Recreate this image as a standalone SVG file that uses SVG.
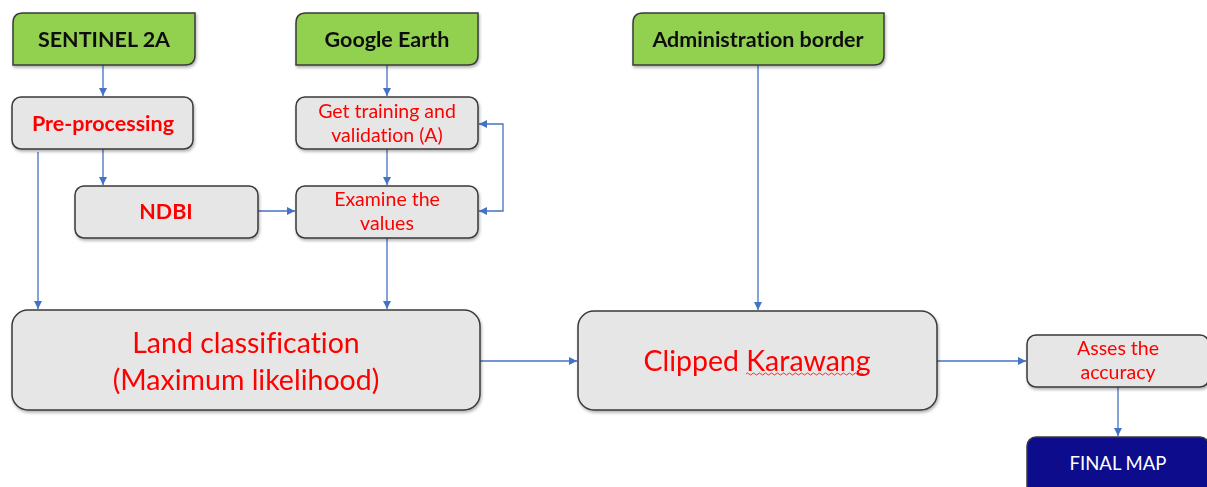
<svg xmlns="http://www.w3.org/2000/svg" width="1207" height="487" viewBox="0 0 1207 487">
<style>
.src{fill:#92d050;stroke:#3a3a3a;stroke-width:1.5}
.box{fill:#e6e6e6;stroke:#3a3a3a;stroke-width:1.5}
.fin{fill:#0c0c8c;stroke:#3a3a3a;stroke-width:1.5}
.t{font-family:Lato,"Liberation Sans",sans-serif;text-anchor:middle;font-variant-ligatures:none;font-feature-settings:"liga" 0,"dlig" 0}
.tb{font-weight:bold;fill:#111;font-size:21.5px}
.tr{fill:#ff0000;font-size:19.5px}
.trb{fill:#ff0000;font-weight:bold;font-size:21.5px}
.tl{fill:#ff0000;font-size:28.5px}
.tw{fill:#ffffff;font-size:18.5px}
.c{fill:none;stroke:#4472c4;stroke-width:1.3}
</style>
<defs>
<marker id="ar" viewBox="0 0 10 10" refX="10" refY="5" markerWidth="8" markerHeight="8" markerUnits="userSpaceOnUse" orient="auto-start-reverse">
<path d="M0,0 L10,5 L0,10 z" fill="#4472c4"/>
</marker>
<filter id="sh" x="-5%" y="-10%" width="110%" height="130%">
<feDropShadow dx="1" dy="2" stdDeviation="1.5" flood-color="#000" flood-opacity="0.3"/>
</filter>
</defs>
<g id="connectors">
<path class="c" d="M103,65 V96" marker-end="url(#ar)"/>
<path class="c" d="M387,65 V96" marker-end="url(#ar)"/>
<path class="c" d="M103,149 V185" marker-end="url(#ar)"/>
<path class="c" d="M38,152 V309" marker-end="url(#ar)"/>
<path class="c" d="M387,149 V185" marker-end="url(#ar)"/>
<path class="c" d="M258,211 H295" marker-end="url(#ar)"/>
<path class="c" d="M387,238 V309" marker-end="url(#ar)"/>
<path class="c" d="M479,211 H503 V124 H479" marker-start="url(#ar)" marker-end="url(#ar)"/>
<path class="c" d="M758,65 V310" marker-end="url(#ar)"/>
<path class="c" d="M480,361 H577" marker-end="url(#ar)"/>
<path class="c" d="M937,361 H1026" marker-end="url(#ar)"/>
<path class="c" d="M1118,387 V436" marker-end="url(#ar)"/>
</g>
<g id="sentinel" filter="url(#sh)">
<path class="src" d="M23,13 H195 V55 Q195,65 185,65 H13 V23 Q13,13 23,13 Z"/>
<text class="t tb" x="104" y="47">SENTINEL 2A</text>
</g>
<g id="google-earth" filter="url(#sh)">
<path class="src" d="M306,13 H478 V55 Q478,65 468,65 H296 V23 Q296,13 306,13 Z"/>
<text class="t tb" x="387" y="47">Google Earth</text>
</g>
<g id="admin-border" filter="url(#sh)">
<path class="src" d="M643,13 H884 V55 Q884,65 874,65 H633 V23 Q633,13 643,13 Z"/>
<text class="t tb" x="758" y="47">Administration border</text>
</g>
<g id="preprocessing" filter="url(#sh)">
<rect class="box" x="12" y="97" width="181" height="52" rx="9"/>
<text class="t trb" x="103" y="131">Pre-processing</text>
</g>
<g id="get-training" filter="url(#sh)">
<rect class="box" x="296" y="97" width="182" height="52" rx="9"/>
<text class="t tr" x="387" y="118">Get training and</text>
<text class="t tr" x="387" y="142">validation (A)</text>
</g>
<g id="ndbi" filter="url(#sh)">
<rect class="box" x="75" y="186" width="183" height="52" rx="9"/>
<text class="t trb" x="166" y="219">NDBI</text>
</g>
<g id="examine" filter="url(#sh)">
<rect class="box" x="296" y="186" width="182" height="52" rx="9"/>
<text class="t tr" x="387" y="206">Examine the</text>
<text class="t tr" x="387" y="230">values</text>
</g>
<g id="land-classification" filter="url(#sh)">
<rect class="box" x="12" y="310" width="468" height="100" rx="16"/>
<text class="t tl" x="246" y="353">Land classification</text>
<text class="t tl" x="246" y="390">(Maximum likelihood)</text>
</g>
<g id="clipped" filter="url(#sh)">
<rect class="box" x="578" y="311" width="359" height="99" rx="16"/>
<text class="t tl" x="757" y="371">Clipped Karawang</text>
<path d="M746,374 q1.5,-2 3,0 t3,0 t3,0 t3,0 t3,0 t3,0 t3,0 t3,0 t3,0 t3,0 t3,0 t3,0 t3,0 t3,0 t3,0 t3,0 t3,0 t3,0 t3,0 t3,0 t3,0 t3,0 t3,0 t3,0 t3,0 t3,0 t3,0 t3,0 t3,0 t3,0 t3,0 t3,0 t3,0 t3,0 t3,0 t3,0 t3,0 t3,0 t3,0 t3,0 t3,0" fill="none" stroke="#ff0000" stroke-width="0.8"/>
</g>
<g id="assess" filter="url(#sh)">
<rect class="box" x="1027" y="335" width="182" height="52" rx="9"/>
<text class="t tr" x="1118" y="355">Asses the</text>
<text class="t tr" x="1118" y="379">accuracy</text>
</g>
<g id="final-map">
<rect class="fin" x="1027" y="437" width="182" height="60" rx="9"/>
<text class="t tw" x="1118" y="470">FINAL MAP</text>
</g>
</svg>
